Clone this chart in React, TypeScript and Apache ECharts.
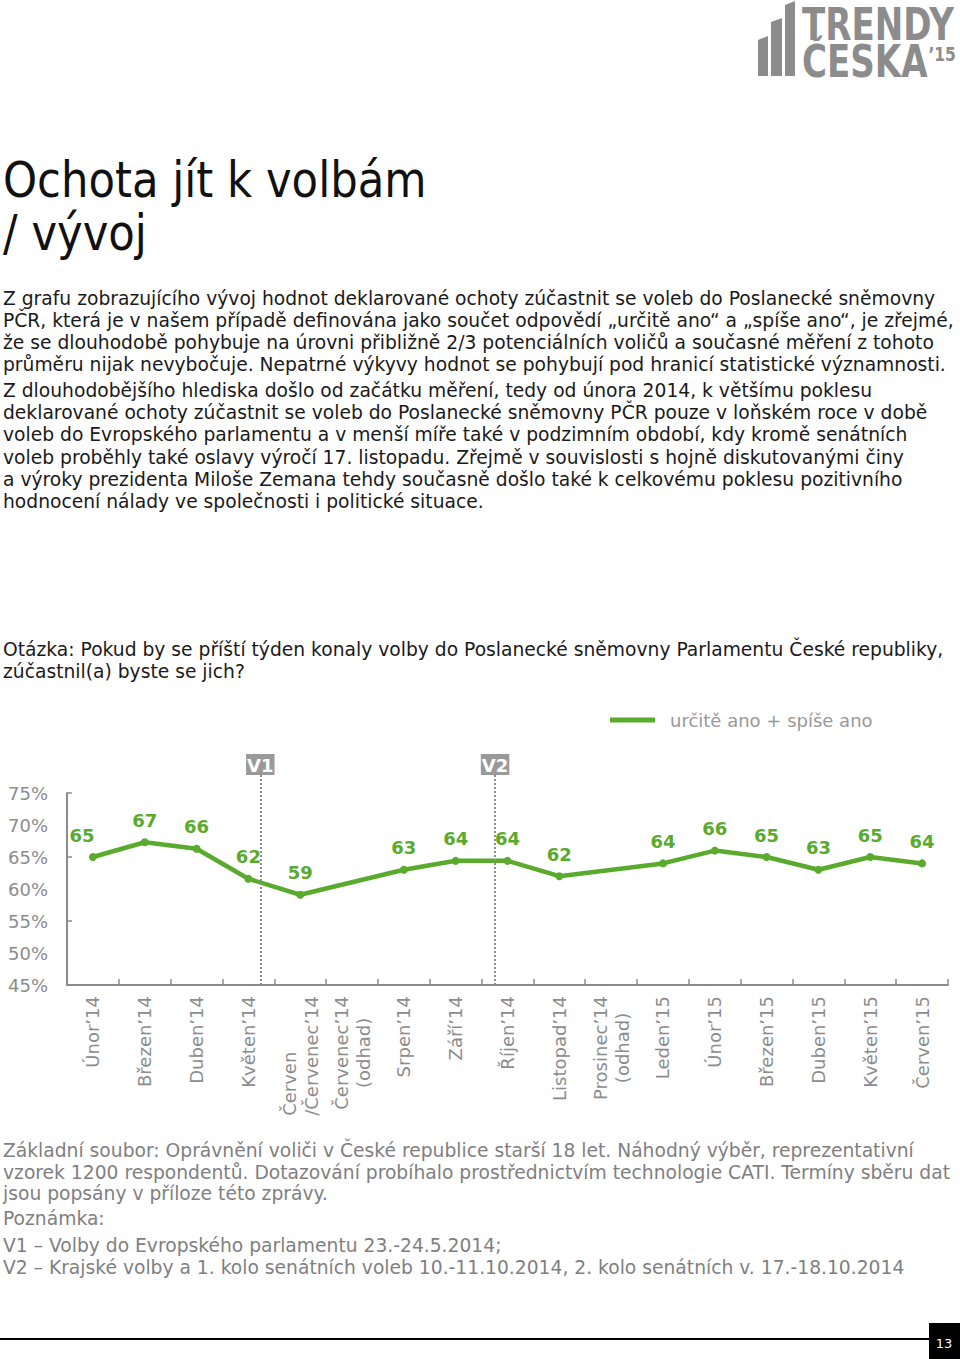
import React, { useEffect, useRef } from "react";
import * as echarts from "echarts";

// ---------- data ----------
const categories = [
  "Únor’14",
  "Březen’14",
  "Duben’14",
  "Květen’14",
  "Červen\n/Červenec’14",
  "Červenec’14\n(odhad)",
  "Srpen’14",
  "Září’14",
  "Říjen’14",
  "Listopad’14",
  "Prosinec’14\n(odhad)",
  "Leden’15",
  "Únor’15",
  "Březen’15",
  "Duben’15",
  "Květen’15",
  "Červen’15",
];
const turnoutValues: (number | null)[] = [
  65, 67.3, 66.3, 61.6, 59.1, null, 63, 64.4, 64.4, 62, null, 64, 66, 65, 63, 65, 64,
];
const seriesName = "určitě ano + spíše ano";
const yMin = 45;
const yMax = 75;
const yStep = 5;
const electionMarks = [
  { name: "V1", at: 3.73 },
  { name: "V2", at: 8.26 },
];

const titleLines = ["Ochota jít k volbám", "/ vývoj"];
const para1 = [
  "Z grafu zobrazujícího vývoj hodnot deklarované ochoty zúčastnit se voleb do Poslanecké sněmovny",
  "PČR, která je v našem případě definována jako součet odpovědí „určitě ano“ a „spíše ano“, je zřejmé,",
  "že se dlouhodobě pohybuje na úrovni přibližně 2/3 potenciálních voličů a současné měření z tohoto",
  "průměru nijak nevybočuje. Nepatrné výkyvy hodnot se pohybují pod hranicí statistické významnosti.",
];
const para2 = [
  "Z dlouhodobějšího hlediska došlo od začátku měření, tedy od února 2014, k většímu poklesu",
  "deklarované ochoty zúčastnit se voleb do Poslanecké sněmovny PČR pouze v loňském roce v době",
  "voleb do Evropského parlamentu a v menší míře také v podzimním období, kdy kromě senátních",
  "voleb proběhly také oslavy výročí 17. listopadu. Zřejmě v souvislosti s hojně diskutovanými činy",
  "a výroky prezidenta Miloše Zemana tehdy současně došlo také k celkovému poklesu pozitivního",
  "hodnocení nálady ve společnosti i politické situace.",
];
const questionLines = [
  "Otázka: Pokud by se příští týden konaly volby do Poslanecké sněmovny Parlamentu České republiky,",
  "zúčastnil(a) byste se jich?",
];
const footerLines = [
  "Základní soubor: Oprávnění voliči v České republice starší 18 let. Náhodný výběr, reprezentativní",
  "vzorek 1200 respondentů. Dotazování probíhalo prostřednictvím technologie CATI. Termíny sběru dat",
  "jsou popsány v příloze této zprávy.",
];
const noteLines = [
  "Poznámka:",
  "V1 – Volby do Evropského parlamentu 23.-24.5.2014;",
  "V2 – Krajské volby a 1. kolo senátních voleb 10.-11.10.2014, 2. kolo senátních v. 17.-18.10.2014",
];
const logoWords = ["TRENDY", "ČESKA", "’15"];
const pageNumber = "13";

// ---------- styles ----------
const FONT = "'DejaVu Sans', Verdana, sans-serif";
const GREEN = "#5aaa2d";
const GRAY = "#8c8c8c";
const TEXT_SCALE = 0.935;

function TextLines({
  lines,
  baselines,
  size,
  color,
  scale = TEXT_SCALE,
}: {
  lines: string[];
  baselines: number[];
  size: number;
  color: string;
  scale?: number;
}) {
  return (
    <>
      {lines.map((l, i) => (
        <text
          key={i}
          transform={`translate(3, ${baselines[i]}) scale(${scale}, 1)`}
          x={0}
          y={0}
          fontFamily={FONT}
          fontSize={size}
          fill={color}
          style={{ whiteSpace: "pre" }}
        >
          {l}
        </text>
      ))}
    </>
  );
}

const seq = (start: number, step: number, n: number) =>
  Array.from({ length: n }, (_, i) => start + i * step);

export default function App() {
  const ref = useRef<HTMLDivElement>(null);

  useEffect(() => {
    if (!ref.current) return;
    const chart = echarts.init(ref.current, null, { renderer: "svg" });
    const labelRich = {
      l: { align: "left", fontSize: 18, color: GRAY, fontFamily: FONT, lineHeight: 22 },
      c: { align: "center", fontSize: 18, color: GRAY, fontFamily: FONT, lineHeight: 22 },
    };
    const option: any = {
      animation: false,
      textStyle: { fontFamily: FONT },
      legend: {
        left: 605,
        top: 706,
        itemWidth: 45,
        itemHeight: 5,
        icon: "rect",
        data: [{ name: seriesName, icon: "rect" }],
        textStyle: { fontSize: 18, color: "#999", padding: [0, 0, 0, 10], fontFamily: FONT },
      },
      grid: [
        { left: 67, top: 793, right: 12, bottom: 374 },
        { left: 67, top: 775, right: 12, bottom: 374 },
      ],
      xAxis: [
        {
          type: "category",
          gridIndex: 0,
          data: categories,
          boundaryGap: true,
          axisLine: { lineStyle: { color: GRAY, width: 2 } },
          axisTick: { show: true, inside: true, length: 6, lineStyle: { color: GRAY, width: 1.5 } },
          axisLabel: {
            rotate: 90,
            interval: 0,
            margin: 11,
            fontSize: 18,
            color: GRAY,
            fontFamily: FONT,
            lineHeight: 22,
            rich: labelRich,
            formatter: (val: string) => {
              const parts = val.split("\n");
              if (parts.length === 1) return val;
              const st = parts[1].startsWith("(") ? "c" : "l";
              return parts.map((p) => `{${st}|${p}}`).join("\n");
            },
          },
        },
        { type: "value", gridIndex: 1, min: 0, max: categories.length, show: false },
      ],
      yAxis: [
        {
          type: "value",
          gridIndex: 0,
          position: "left",
          min: yMin,
          max: yMax,
          interval: yStep,
          axisLine: { show: true, lineStyle: { color: GRAY, width: 2 } },
          axisTick: { show: false },
          splitLine: { show: false },
          axisLabel: { formatter: "{value}%", fontSize: 18, color: GRAY, margin: 19, fontFamily: FONT },
        },
        {
          type: "value",
          gridIndex: 0,
          position: "left",
          min: yMin,
          max: yMax,
          interval: yStep * 2,
          axisLine: { show: false },
          axisTick: { show: true, inside: true, length: 5, lineStyle: { color: GRAY, width: 1.5 } },
          axisLabel: { show: false },
          splitLine: { show: false },
        },
        { type: "value", gridIndex: 1, min: 0, max: 1, show: false },
      ],
      series: [
        {
          type: "line",
          name: seriesName,
          xAxisIndex: 0,
          yAxisIndex: 0,
          data: turnoutValues.map((v, i) =>
            i === 0 ? { value: v, label: { offset: [-11, 0] } } : v
          ),
          connectNulls: true,
          symbol: "circle",
          symbolSize: 8,
          lineStyle: { width: 4.5, color: GREEN },
          itemStyle: { color: GREEN },
          label: {
            show: true,
            position: "top",
            distance: 9,
            fontSize: 18,
            fontWeight: "bold",
            color: GREEN,
            fontFamily: FONT,
            formatter: (p: any) => String(Math.round(p.value)),
          },
        },
        {
          type: "line",
          xAxisIndex: 1,
          yAxisIndex: 2,
          data: [],
          silent: true,
          markLine: {
            symbol: ["none", "none"],
            silent: true,
            lineStyle: { type: [2, 2], color: GRAY, width: 2 },
            label: {
              show: true,
              position: "end",
              distance: 0,
              formatter: "{b}",
              backgroundColor: "#999",
              color: "#fff",
              fontWeight: "bold",
              fontSize: 18,
              fontFamily: FONT,
              padding: [2, 1, 1, 1],
            },
            data: electionMarks.map((m) => [
              { name: m.name, coord: [m.at, 0] },
              { coord: [m.at, 1] },
            ]),
          },
        },
      ],
    };
    chart.setOption(option);
    return () => chart.dispose();
  }, []);

  return (
    <div
      style={{
        position: "absolute",
        left: 0,
        top: 0,
        width: 960,
        height: 1359,
        background: "#fff",
        overflow: "hidden",
      }}
    >
      <div ref={ref} style={{ position: "absolute", left: 0, top: 0, width: 960, height: 1359 }} />
      <svg
        width={960}
        height={1359}
        style={{ position: "absolute", left: 0, top: 0, pointerEvents: "none" }}
      >
        {/* logo */}
        <g fill="#8c8c8c">
          <polygon points="758,40 768,36 768,76 758,76" />
          <polygon points="771,22 782,18 782,76 771,76" />
          <polygon points="785,5 795,1 795,76 785,76" />
          <text
            transform="translate(802, 40) scale(0.775, 1)"
            fontFamily={FONT}
            fontWeight="bold"
            fontSize={44}
          >
            <tspan x={0} y={0}>
              {logoWords[0]}
            </tspan>
            <tspan x={0} y={37}>
              {logoWords[1]}
            </tspan>
            <tspan dx={1} y={21} fontSize={20}>
              {logoWords[2]}
            </tspan>
          </text>
        </g>

        <TextLines lines={titleLines} baselines={[197, 250]} size={50} color="#111" scale={0.867} />
        <TextLines lines={para1} baselines={seq(305, 22, para1.length)} size={20} color="#1a1a1a" />
        <TextLines lines={para2} baselines={seq(397, 22.2, para2.length)} size={20} color="#1a1a1a" />
        <TextLines lines={questionLines} baselines={[656, 678]} size={20} color="#1a1a1a" />
        <TextLines lines={footerLines} baselines={[1157, 1178.5, 1200]} size={20} color="#7f7f7f" />
        <TextLines lines={noteLines} baselines={[1225, 1252, 1273.5]} size={20} color="#7f7f7f" />

        {/* footer rule and page number */}
        <line x1={0} y1={1339} x2={930} y2={1339} stroke="#000" strokeWidth={2} />
        <rect x={929} y={1323} width={31} height={36} fill="#000" />
        <text
          x={944}
          y={1348}
          textAnchor="middle"
          fontFamily={FONT}
          fontSize={13}
          fill="#fff"
        >
          {pageNumber}
        </text>
      </svg>
    </div>
  );
}
